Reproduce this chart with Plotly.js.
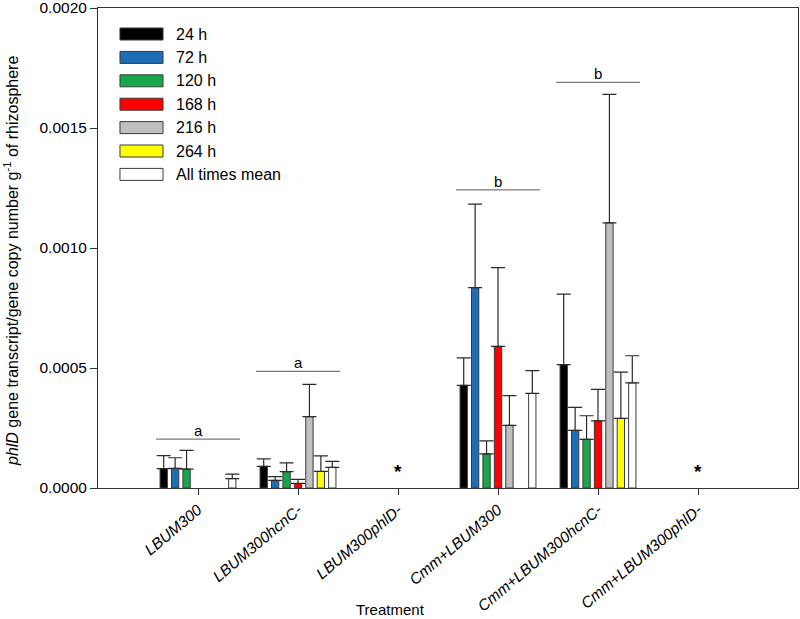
<!DOCTYPE html>
<html>
<head>
<meta charset="utf-8">
<script src="https://cdn.plot.ly/plotly-3.0.1.min.js"></script>
<style>html,body{margin:0;padding:0;background:#fff;}#chart{width:800px;height:619px;}</style>
</head>
<body>
<div id="chart"></div>
<script>
// ---- data ----
var categories = ["LBUM300", "LBUM300hcnC-", "LBUM300phlD-", "Cmm+LBUM300", "Cmm+LBUM300hcnC-", "Cmm+LBUM300phlD-"];
var seriesNames = ["24 h", "72 h", "120 h", "168 h", "216 h", "264 h", "All times mean"];
var seriesColors = ["#000000", "#1f6db5", "#19a64b", "#ff0000", "#bfbfbf", "#ffff00", "#ffffff"];

var h24   = [0.000081, 0.000090, null, 0.000428, 0.000514, null];
var h72   = [0.000082, 0.000032, null, 0.000835, 0.000240, null];
var h120  = [0.000079, 0.000068, null, 0.000142, 0.000203, null];
var h168  = [null,     0.000019, null, 0.000590, 0.000280, null];
var h216  = [null,     0.000297, null, 0.000261, 0.001105, null];
var h264  = [null,     0.000069, null, null,     0.000290, null];
var hMean = [0.000039, 0.000086, null, 0.000394, 0.000438, null];

var e24   = [0.000054, 0.000031, null, 0.000114, 0.000294, null];
var e72   = [0.000044, 0.000015, null, 0.000348, 0.000096, null];
var e120  = [0.000078, 0.000037, null, 0.000054, 0.000098, null];
var e168  = [null,     0.000017, null, 0.000328, 0.000131, null];
var e216  = [null,     0.000135, null, 0.000124, 0.000535, null];
var e264  = [null,     0.000065, null, null,     0.000193, null];
var eMean = [0.000019, 0.000025, null, 0.000095, 0.000113, null];

// significance letters
var sigCategories = ["LBUM300", "LBUM300hcnC-", "Cmm+LBUM300", "Cmm+LBUM300hcnC-"];
var sigLetters = ["a", "a", "b", "b"];
var sigLevels = [0.000204, 0.000486, 0.001242, 0.001690];
// no-data markers
var starCategories = ["LBUM300phlD-", "Cmm+LBUM300phlD-"];

var yTicks = [0, 0.0005, 0.001, 0.0015, 0.002];

var values = [h24, h72, h120, h168, h216, h264, hMean];
var errors = [e24, e72, e120, e168, e216, e264, eMean];

var font = "Liberation Sans, Arial, sans-serif";
var traces = values.map(function (v, i) {
  return {
    type: "bar",
    name: seriesNames[i],
    x: categories,
    y: v,
    marker: {color: seriesColors[i], line: {color: "#3a3a3a", width: 1}},
    error_y: {type: "data", array: errors[i], symmetric: false, arrayminus: errors[i].map(function(){return 0;}),
              color: "#2a2a2a", thickness: 1.2, width: 7},
    showlegend: false,
    hoverinfo: "skip"
  };
});

var shapes = [];
var annotations = [];

// legend built from series arrays
var legX0 = 0.0314, legX1 = 0.0929;
seriesNames.forEach(function (n, i) {
  var yc = (486 - (32 + i * 23.4)) / 480;
  var hh = 6 / 480;
  shapes.push({type: "rect", xref: "paper", yref: "paper", x0: legX0, x1: legX1, y0: yc - hh, y1: yc + hh,
               fillcolor: seriesColors[i], line: {color: "#3a3a3a", width: 1}});
  annotations.push({xref: "paper", yref: "paper", x: 0.108, y: yc, text: n, showarrow: false,
                    xanchor: "left", yanchor: "middle", font: {family: font, size: 16, color: "#000"}});
});

// significance lines and letters
sigCategories.forEach(function (c, i) {
  var idx = categories.indexOf(c);
  shapes.push({type: "line", xref: "x", yref: "y", x0: idx - 0.42, x1: idx + 0.42,
               y0: sigLevels[i], y1: sigLevels[i], line: {color: "#7a7a7a", width: 1.3}});
  annotations.push({xref: "x", yref: "y", x: idx, y: sigLevels[i], text: sigLetters[i], showarrow: false,
                    yanchor: "bottom", yshift: -2, font: {family: font, size: 15, color: "#000"}});
});

starCategories.forEach(function (c) {
  annotations.push({xref: "x", yref: "y", x: categories.indexOf(c), y: 0, text: "<b>*</b>", showarrow: false,
                    yanchor: "middle", yshift: 17, font: {family: font, size: 19, color: "#000"}});
});

// axis titles
annotations.push({xref: "paper", yref: "paper", x: (390 - 98) / 700, y: -(607 - 486) / 480, text: "Treatment",
                  showarrow: false, xanchor: "center", yanchor: "middle", font: {family: font, size: 15, color: "#000"}});
annotations.push({xref: "paper", yref: "paper", x: (11 - 98) / 700, y: (486 - 259) / 480, textangle: -90,
                  text: "<i>phlD</i> gene transcript/gene copy number g<sup>-1</sup> of rhizosphere",
                  showarrow: false, xanchor: "center", yanchor: "middle", font: {family: font, size: 16, color: "#000"}});

var layout = {
  width: 800, height: 619,
  margin: {l: 98, r: 2, t: 8, b: 131, pad: 0},
  paper_bgcolor: "#fff", plot_bgcolor: "#fff",
  barmode: "group", bargap: 0.2, bargroupgap: 0.36,
  showlegend: false,
  font: {family: font, size: 15, color: "#000"},
  xaxis: {
    type: "category", range: [-1, 6], showgrid: false, zeroline: false,
    showline: true, linecolor: "#333", linewidth: 1, mirror: true,
    ticks: "outside", ticklen: 6, tickcolor: "#333",
    tickangle: -40, tickfont: {family: font, size: 15.5, style: "italic", color: "#000"},
    automargin: false
  },
  yaxis: {
    range: [0, 0.0020001], tickmode: "array", tickvals: yTicks, tickformat: ".4f",
    ticklabeloverflow: "allow",
    showgrid: false, zeroline: false, showline: true, linecolor: "#333", linewidth: 1, mirror: true,
    ticks: "outside", ticklen: 7, tickcolor: "#333",
    tickfont: {family: font, size: 15.5, color: "#000"},
    automargin: false
  },
  shapes: shapes,
  annotations: annotations
};

Plotly.newPlot("chart", traces, layout, {displayModeBar: false, staticPlot: true});
</script>
</body>
</html>
